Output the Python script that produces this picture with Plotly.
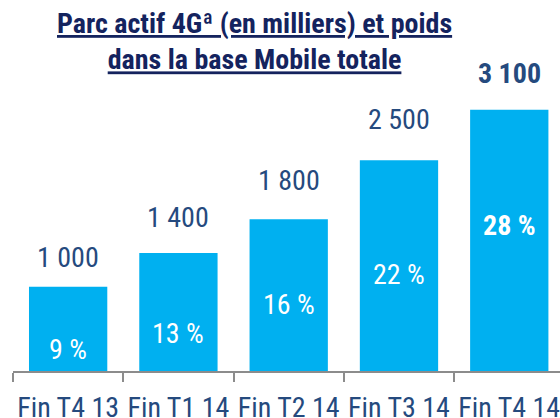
import plotly.graph_objects as go

# ---- data ----
categories = ["Fin T4 13", "Fin T1 14", "Fin T2 14", "Fin T3 14", "Fin T4 14"]
parc_4g = [1000, 1400, 1800, 2500, 3100]
value_labels = ["1 000", "1 400", "1 800", "2 500", "3 100"]
poids_pct = [9, 13, 16, 22, 28]
title_line1 = "Parc actif 4Gª (en milliers) et poids"
title_line2 = "dans la base Mobile totale"

FONT = "Liberation Sans Narrow, Arial Narrow, Roboto Condensed, sans-serif"
BAR = "#00B0F0"
LABEL = "#254A7E"
TITLE = "#14235E"

fig = go.Figure()
fig.add_trace(go.Bar(
    x=categories, y=parc_4g, marker=dict(color=BAR, line=dict(width=0)),
    width=0.71, hoverinfo="skip", showlegend=False,
))

# value labels above bars
val_shift = [11, 17, 20, 22, 18]
for i, (c, v, t) in enumerate(zip(categories, parc_4g, value_labels)):
    last = i == len(categories) - 1
    fig.add_annotation(
        x=c, y=v, text=f"<b>{t}</b>" if last else t, showarrow=False,
        yanchor="bottom", yshift=val_shift[i],
        font=dict(family=FONT, size=28, color=LABEL),
    )

# percent labels inside bars (positions in fraction of bar height)
pct_frac = [0.26, 0.32, 0.44, 0.458, 0.557]
for i, (c, v, p) in enumerate(zip(categories, parc_4g, poids_pct)):
    last = i == len(categories) - 1
    txt = f"{p} %"
    fig.add_annotation(
        x=c, y=v * pct_frac[i], text=f"<b>{txt}</b>" if last else txt,
        showarrow=False, yanchor="middle",
        font=dict(family=FONT, size=28, color="white"),
    )

fig.add_annotation(
    xref="paper", yref="paper", x=(254 - 13) / 547, y=1, yanchor="bottom",
    yshift=-2, showarrow=False, align="center",
    text=f"<b><u>{title_line1}</u></b><br><b><u>{title_line2}</u></b>",
    font=dict(family=FONT, size=28, color=TITLE),
)

fig.update_layout(
    width=560, height=418,
    margin=dict(l=13, r=0, t=76, b=47, autoexpand=False),
    paper_bgcolor="white", plot_bgcolor="white",
    bargap=0.29,
    xaxis=dict(
        type="category", range=[-0.5, 4.46], automargin=False,
        showline=True, linecolor="#8C8C8C", linewidth=2,
        ticks="outside", tickson="boundaries", ticklen=9, tickwidth=2,
        tickcolor="#8C8C8C", showgrid=False, tickangle=0,
        ticklabelstandoff=10,
        tickfont=dict(family=FONT, size=28, color=LABEL),
    ),
    yaxis=dict(range=[0, 3500], visible=False, showgrid=False),
)

fig.write_html(
    "out.html",
    config={"displayModeBar": False},
    post_script="document.body.style.margin='0px';document.body.style.overflow='hidden';",
)
